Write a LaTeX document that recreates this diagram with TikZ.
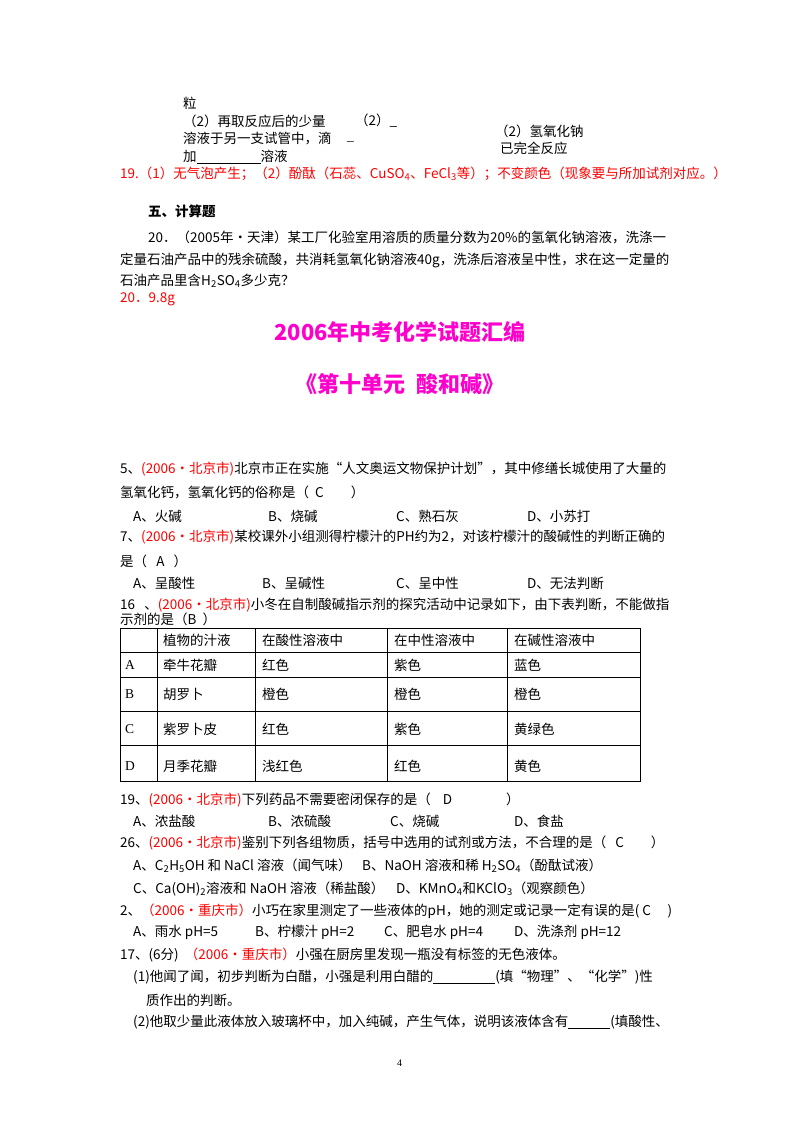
\documentclass[tikz,border=0pt]{standalone}
\usepackage{fontspec}
\setmainfont{Liberation Serif}
\newfontfamily\cjk{Noto Sans CJK SC}
\begin{document}
\begin{tikzpicture}[x=1pt,y=-1pt,
  t/.style={anchor=west,inner sep=0pt,font=\fontsize{13.5}{15}\selectfont},
  r/.style={t,text=red},
  ttl/.style={anchor=center,inner sep=0pt,text={rgb,255:red,255;green,0;blue,204},font=\fontsize{22}{24}\selectfont\bfseries\cjk}]
\useasboundingbox[fill=white] (0,0) rectangle (800,1132);
\newcommand\R[1]{\textcolor{red}{#1}}
\node[t] (l1) at (183,103) {\cjk 粒};
\node[t] (l2) at (183,121) {\cjk （2）再取反应后的少量};
\node[t] (l2b) at (355,121) {\cjk （2）\_};
\node[t] (l3) at (183,139) {\cjk 溶液于另一支试管中，滴};
\node[t] (l3b) at (347,141) {\_};
\node[t] (l2c) at (495,131) {\cjk （2）氢氧化钠};
\node[t] (l3c) at (500,148) {\cjk 已完全反应};
\node[t] (l4) at (183,157) {\cjk 加\underline{\hspace{64pt}}溶液};
\node[r] (a19) at (120,174) {\cjk 19.（1）无气泡产生；（2）酚酞（石蕊、CuSO\textsubscript{4}、FeCl\textsubscript{3}等）；不变颜色（现象要与所加试剂对应。）};
\node[t] (h5) at (148,211) {\cjk\bfseries 五、计算题};
\node[t] (q20) at (148,237) {\cjk 20．（2005年·天津）某工厂化验室用溶质的质量分数为20\%的氢氧化钠溶液，洗涤一};
\node[t] (q20b) at (120,260) {\cjk 定量石油产品中的残余硫酸，共消耗氢氧化钠溶液40g，洗涤后溶液呈中性，求在这一定量的};
\node[t] (q20c) at (120,281) {\cjk 石油产品里含H\textsubscript{2}SO\textsubscript{4}多少克？};
\node[r] (a20) at (120,299) {\cjk 20．9.8g};
\node[ttl] (T1) at (400,332) {2006年中考化学试题汇编};
\node[ttl] (T2) at (400,384) {\itshape《第十单元\ \ 酸和碱》};
\node[t] (q5) at (120,469) {\cjk 5、\R{(2006·北京市)}北京市正在实施“人文奥运文物保护计划”，其中修缮长城使用了大量的};
\node[t] (q5b) at (120,492) {\cjk 氢氧化钙，氢氧化钙的俗称是（\ \ C\qquad ）};
\node[t] (o5a) at (133,516) {\cjk A、火碱};
\node[t] (o5b) at (268,516) {\cjk B、烧碱};
\node[t] (o5c) at (396,516) {\cjk C、熟石灰};
\node[t] (o5d) at (527,516) {\cjk D、小苏打};
\node[t] (q7) at (120,537) {\cjk 7、\R{(2006·北京市)}某校课外小组测得柠檬汁的PH约为2，对该柠檬汁的酸碱性的判断正确的};
\node[t] (q7b) at (120,561) {\cjk 是（\ \ \ A\ \ \ ）};
\node[t] (o7a) at (133,583) {\cjk A、呈酸性};
\node[t] (o7b) at (262,583) {\cjk B、呈碱性};
\node[t] (o7c) at (396,583) {\cjk C、呈中性};
\node[t] (o7d) at (527,583) {\cjk D、无法判断};
\node[t] (q16) at (120,605) {\cjk 16\ \ \ 、\R{(2006·北京市)}小冬在自制酸碱指示剂的探究活动中记录如下，由下表判断，不能做指};
\node[t] (q16b) at (120,619) {\cjk 示剂的是（B\ \ ）};
% table
\draw[line width=0.8pt] (120,628) rectangle (640,781);
\foreach \y in {652,677,711,745} \draw[line width=0.8pt] (120,\y) -- (640,\y);
\foreach \x in {157,255,387,507} \draw[line width=0.8pt] (\x,628) -- (\x,781);
\foreach \y/\a/\b/\c/\d/\e in {640//植物的汁液/在酸性溶液中/在中性溶液中/在碱性溶液中,
  665/A/牵牛花瓣/红色/紫色/蓝色, 694/B/胡罗卜/橙色/橙色/橙色,
  729/C/紫罗卜皮/红色/紫色/黄绿色, 766/D/月季花瓣/浅红色/红色/黄色}{
  \node[t] at (125,\y) {\a};
  \node[t] at (163,\y) {\cjk\b};
  \node[t] at (262,\y) {\cjk\c};
  \node[t] at (394,\y) {\cjk\d};
  \node[t] at (514,\y) {\cjk\e};
}
\node[t] (q19) at (120,800) {\cjk 19、\R{(2006·北京市)}下列药品不需要密闭保存的是（\ \ \ \ D\qquad\qquad ）};
\node[t] (o19a) at (133,821) {\cjk A、浓盐酸};
\node[t] (o19b) at (268,821) {\cjk B、浓硫酸};
\node[t] (o19c) at (390,821) {\cjk C、烧碱};
\node[t] (o19d) at (514,821) {\cjk D、食盐};
\node[t] (q26) at (120,843) {\cjk 26、\R{(2006·北京市)}鉴别下列各组物质，括号中选用的试剂或方法，不合理的是（\ \ \ C\qquad ）};
\node[t] (o26a) at (133,866) {\cjk A、C\textsubscript{2}H\textsubscript{5}OH 和 NaCl 溶液（闻气味）};
\node[t] (o26b) at (362,866) {\cjk B、NaOH 溶液和稀 H\textsubscript{2}SO\textsubscript{4}（酚酞试液）};
\node[t] (o26c) at (133,889) {\cjk C、Ca(OH)\textsubscript{2}溶液和 NaOH 溶液（稀盐酸）};
\node[t] (o26d) at (396,889) {\cjk D、KMnO\textsubscript{4}和KClO\textsubscript{3}（观察颜色）};
\node[t] (q2) at (120,911) {\cjk 2、\R{（2006·重庆市）}小巧在家里测定了一些液体的pH，她的测定或记录一定有误的是(\ C\quad\ )};
\node[t] (o2a) at (133,932) {\cjk A、雨水 pH=5};
\node[t] (o2b) at (255,932) {\cjk B、柠檬汁 pH=2};
\node[t] (o2c) at (384,932) {\cjk C、肥皂水 pH=4};
\node[t] (o2d) at (514,932) {\cjk D、洗涤剂 pH=12};
\node[t] (q17) at (120,955) {\cjk 17、(6分)\ \ \R{（2006·重庆市）}小强在厨房里发现一瓶没有标签的无色液体。};
\node[t] (q17a) at (133,977) {\cjk (1)他闻了闻，初步判断为白醋，小强是利用白醋的\underline{\hspace{62pt}}(填“物理”、“化学”)性};
\node[t] (q17b) at (146,1000) {\cjk 质作出的判断。};
\node[t] (q17c) at (133,1022) {\cjk (2)他取少量此液体放入玻璃杯中，加入纯碱，产生气体，说明该液体含有\underline{\hspace{42pt}}(填酸性、};
\node[t,font=\fontsize{10}{12}\selectfont] (pg) at (397,1063) {4};
\end{tikzpicture}
\end{document}
